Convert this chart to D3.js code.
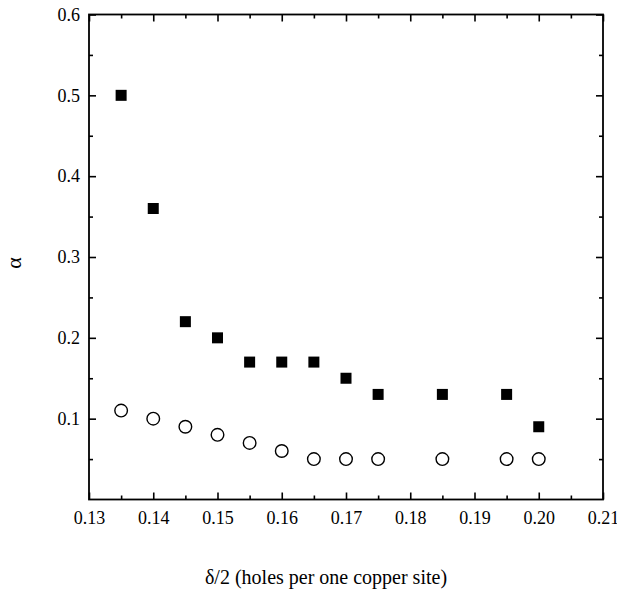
<!DOCTYPE html>
<html><head><meta charset="utf-8">
<script src="https://cdn.jsdelivr.net/npm/d3@7"></script>
</head><body style="margin:0;background:#fff">
<svg id="chart" width="617" height="597" style="display:block"></svg>
<script>
const xValues = [0.135, 0.14, 0.145, 0.15, 0.155, 0.16, 0.165, 0.17, 0.175, 0.185, 0.195, 0.20];
const squareValues = [0.50, 0.36, 0.22, 0.20, 0.17, 0.17, 0.17, 0.15, 0.13, 0.13, 0.13, 0.09];
const circleValues = [0.11, 0.10, 0.09, 0.08, 0.07, 0.06, 0.05, 0.05, 0.05, 0.05, 0.05, 0.05];
const xTicks = [0.13, 0.14, 0.15, 0.16, 0.17, 0.18, 0.19, 0.20, 0.21];
const xTickLabels = ["0.13", "0.14", "0.15", "0.16", "0.17", "0.18", "0.19", "0.20", "0.21"];
const yTicks = [0.1, 0.2, 0.3, 0.4, 0.5, 0.6];
const yTickLabels = ["0.1", "0.2", "0.3", "0.4", "0.5", "0.6"];
const xMinor = [0.135, 0.145, 0.155, 0.165, 0.175, 0.185, 0.195, 0.205];
const yMinor = [0.05, 0.15, 0.25, 0.35, 0.45, 0.55];
const xTitle = "δ/2 (holes per one copper site)";
const yTitle = "α";

const L = 89, R = 603, T = 14.5, B = 499.5;
const font = "Liberation Serif";

const svg = d3.select("#chart");
const x = d3.scaleLinear().domain([0.13, 0.21]).range([L, R]);
const y = d3.scaleLinear().domain([0, 0.6]).range([B, T]);

function setFont(sel, size){
  sel.attr("font-family", font).attr("font-size", size)
     .style("font-family", "'Liberation Serif'", "important")
     .style("font-size", size + "px", "important");
}
function styleAxis(g){
  g.attr("font-family", font);
  g.select(".domain").remove();
  g.selectAll("line").attr("stroke", "#000").attr("stroke-width", 1.6);
  g.selectAll("text").attr("fill", "#000").call(setFont, 18);
}
// bottom
svg.append("g").attr("transform", `translate(0,${B})`)
  .call(d3.axisBottom(x).tickValues(xTicks).tickFormat((d,i)=>xTickLabels[i]).tickSizeInner(-7).tickPadding(12))
  .call(styleAxis);
svg.append("g").attr("transform", `translate(0,${B})`)
  .call(d3.axisBottom(x).tickValues(xMinor).tickFormat("").tickSizeInner(-4))
  .call(styleAxis);
// top
svg.append("g").attr("transform", `translate(0,${T})`)
  .call(d3.axisTop(x).tickValues(xTicks).tickFormat("").tickSizeInner(-7))
  .call(styleAxis);
svg.append("g").attr("transform", `translate(0,${T})`)
  .call(d3.axisTop(x).tickValues(xMinor).tickFormat("").tickSizeInner(-4))
  .call(styleAxis);
// left
svg.append("g").attr("transform", `translate(${L},0)`)
  .call(d3.axisLeft(y).tickValues(yTicks).tickFormat((d,i)=>yTickLabels[i]).tickSizeInner(-7).tickPadding(9))
  .call(styleAxis);
svg.append("g").attr("transform", `translate(${L},0)`)
  .call(d3.axisLeft(y).tickValues(yMinor).tickFormat("").tickSizeInner(-4))
  .call(styleAxis);
// right
svg.append("g").attr("transform", `translate(${R},0)`)
  .call(d3.axisRight(y).tickValues(yTicks).tickFormat("").tickSizeInner(-7))
  .call(styleAxis);
svg.append("g").attr("transform", `translate(${R},0)`)
  .call(d3.axisRight(y).tickValues(yMinor).tickFormat("").tickSizeInner(-4))
  .call(styleAxis);

// frame
svg.append("rect").attr("x", L).attr("y", T).attr("width", R-L).attr("height", B-T)
  .attr("fill", "none").attr("stroke", "#000").attr("stroke-width", 1.8);

const sq = 11;
svg.append("g").selectAll("rect").data(xValues.map((d,i)=>[d, squareValues[i]])).join("rect")
  .attr("x", d => x(d[0]) - sq/2).attr("y", d => y(d[1]) - sq/2)
  .attr("width", sq).attr("height", sq).attr("fill", "#000");

svg.append("g").selectAll("circle").data(xValues.map((d,i)=>[d, circleValues[i]])).join("circle")
  .attr("cx", d => x(d[0])).attr("cy", d => y(d[1])).attr("r", 6.3)
  .attr("fill", "none").attr("stroke", "#000").attr("stroke-width", 1.4);

svg.append("text").attr("x", (L+R)/2 - 20).attr("y", 584).attr("text-anchor", "middle")
  .attr("fill", "#000").call(setFont, 20).text(xTitle);
svg.append("text").attr("transform", `translate(21,263) rotate(-90)`).attr("text-anchor", "middle")
  .attr("fill", "#000").call(setFont, 22).text(yTitle);
</script>
</body></html>
